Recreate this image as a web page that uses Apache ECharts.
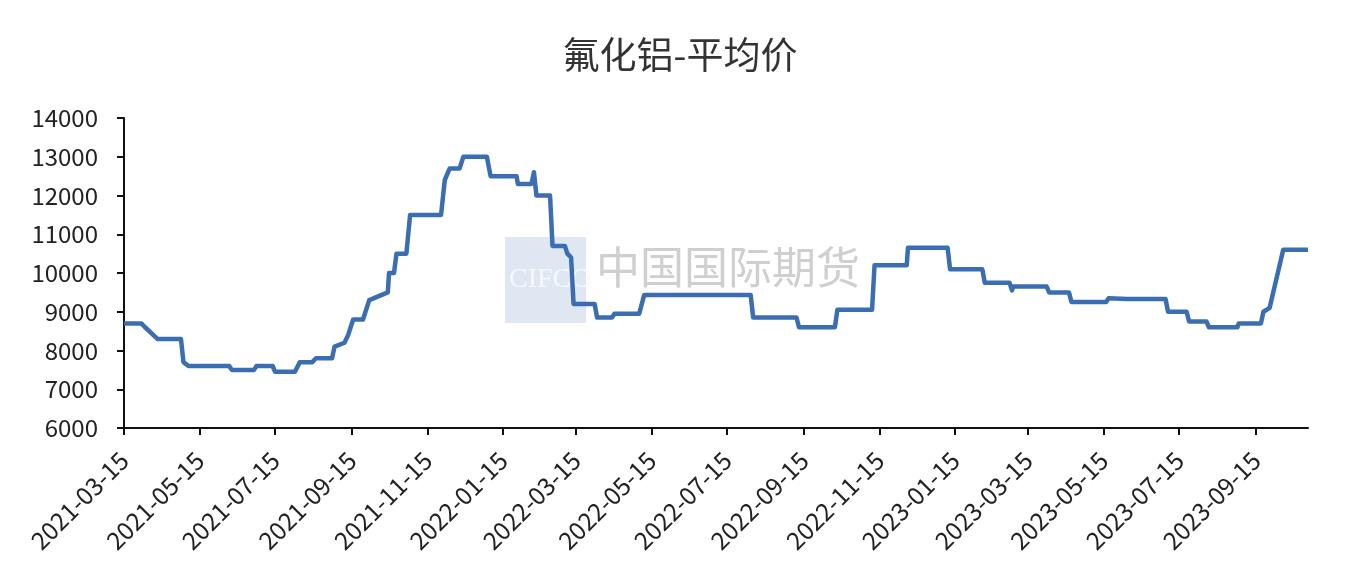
<!DOCTYPE html>
<html>
<head>
<meta charset="utf-8">
<script src="https://cdn.jsdelivr.net/npm/echarts@6/dist/echarts.min.js"></script>
<style>html,body{margin:0;padding:0;background:#fff;}#c{width:1360px;height:582px;}</style>
</head>
<body>
<div id="c"></div>
<script>
var titleText = '氟化铝-平均价';
var dates = [
 '2021-03-15','2021-03-29','2021-04-01','2021-04-11','2021-04-30','2021-05-02','2021-05-06',
 '2021-06-08','2021-06-10','2021-06-28','2021-06-30','2021-07-13','2021-07-15','2021-07-31',
 '2021-08-04','2021-08-14','2021-08-17','2021-08-30','2021-09-01','2021-09-09','2021-09-12',
 '2021-09-16','2021-09-24','2021-09-29','2021-10-14','2021-10-15','2021-10-19','2021-10-21',
 '2021-10-29','2021-11-01','2021-11-26','2021-11-29','2021-12-03','2021-12-11','2021-12-14',
 '2022-01-02','2022-01-05','2022-01-26','2022-01-27','2022-02-07','2022-02-09','2022-02-11',
 '2022-02-22','2022-02-24','2022-03-06','2022-03-08','2022-03-11','2022-03-13','2022-03-30',
 '2022-04-01','2022-04-13','2022-04-15','2022-05-05','2022-05-09','2022-08-03','2022-08-05',
 '2022-09-09','2022-09-11','2022-10-10','2022-10-12','2022-11-09','2022-11-11','2022-12-07',
 '2022-12-08','2023-01-09','2023-01-11','2023-02-06','2023-02-08','2023-02-28','2023-03-02',
 '2023-03-03','2023-03-30','2023-04-01','2023-04-17','2023-04-19','2023-05-17','2023-05-19',
 '2023-06-03','2023-07-04','2023-07-06','2023-07-21','2023-07-23','2023-08-06','2023-08-08',
 '2023-08-31','2023-09-01','2023-09-19','2023-09-21','2023-09-26','2023-10-07','2023-10-27'
];
var prices = [
 8700,8700,8600,8300,8300,7700,7600,
 7600,7500,7500,7600,7600,7450,7450,
 7700,7700,7800,7800,8100,8200,8400,
 8800,8800,9300,9500,10000,10000,10500,
 10500,11500,11500,12400,12700,12700,13000,
 13000,12500,12500,12300,12300,12600,12000,
 12000,10700,10700,10500,10400,9200,9200,
 8850,8850,8950,8950,9430,9430,8850,
 8850,8600,8600,9050,9050,10200,10200,
 10650,10650,10100,10100,9750,9750,9550,
 9650,9650,9500,9500,9250,9250,9350,
 9330,9330,9000,9000,8750,8750,8600,
 8600,8700,8700,9000,9100,10600,10600
];
var tickDates = ['2021-03-15','2021-05-15','2021-07-15','2021-09-15','2021-11-15','2022-01-15',
 '2022-03-15','2022-05-15','2022-07-15','2022-09-15','2022-11-15','2023-01-15',
 '2023-03-15','2023-05-15','2023-07-15','2023-09-15'];
var xMin = '2021-03-15', xMax = '2023-10-27';
var yMin = 6000, yMax = 14000, yStep = 1000;
var watermarkLogo = 'CIFCO';
var watermarkName = '中国国际期货';

function ts(s){ var p = s.split('-'); return Date.UTC(+p[0], +p[1]-1, +p[2]); }
function fmt(v){
  var d = new Date(v);
  var m = d.getUTCMonth()+1, day = d.getUTCDate();
  return d.getUTCFullYear() + '-' + (m<10?'0':'') + m + '-' + (day<10?'0':'') + day;
}
var tickTs = tickDates.map(ts);
var seriesData = dates.map(function(d,i){ return [ts(d), prices[i]]; });

var chart = echarts.init(document.getElementById('c'));
var font = '"Noto Sans CJK SC", "Noto Sans", sans-serif';
chart.setOption({
  backgroundColor: '#ffffff',
  animation: false,
  title: {
    text: titleText, left: 'center', top: 31,
    textStyle: {fontFamily: font, fontSize: 37, fontWeight: 'normal', color: '#333'}
  },
  grid: {left: 124, right: 52, top: 118, bottom: 154, containLabel: false},
  graphic: [
    {type: 'rect', left: 505, top: 237, z: 0, shape: {width: 81, height: 86},
     style: {fill: '#dfe7f3'}},
    {type: 'text', left: 509, top: 266, z: 1,
     style: {text: watermarkLogo, fill: '#f7f9fc', font: '28px "Liberation Serif", serif'}},
    {type: 'text', left: 596, top: 245, z: 1,
     style: {text: watermarkName, fill: '#cfcfcf', font: '44px "Noto Sans CJK SC", sans-serif'}}
  ],
  xAxis: {
    type: 'value', min: ts(xMin), max: ts(xMax),
    axisLine: {lineStyle: {color: '#111', width: 2}},
    axisTick: {show: true, length: 7, lineStyle: {color: '#111', width: 2}, customValues: tickTs},
    splitLine: {show: false},
    axisLabel: {
      customValues: tickTs, rotate: 45, margin: 28, color: '#222',
      fontFamily: font, fontSize: 24.5,
      formatter: function(v){ return fmt(v); }
    }
  },
  yAxis: {
    type: 'value', min: yMin, max: yMax, interval: yStep,
    axisLine: {show: true, lineStyle: {color: '#111', width: 2}},
    axisTick: {show: true, length: 7, lineStyle: {color: '#111', width: 2}},
    splitLine: {show: false},
    axisLabel: {margin: 26, color: '#222', fontFamily: font, fontSize: 24,
      formatter: function(v){ return String(v); }}
  },
  series: [{
    type: 'line', data: seriesData, showSymbol: false, symbol: 'none', z: 5,
    lineStyle: {color: '#3b6db2', width: 4.5, join: 'round'}
  }]
});
</script>
</body>
</html>
